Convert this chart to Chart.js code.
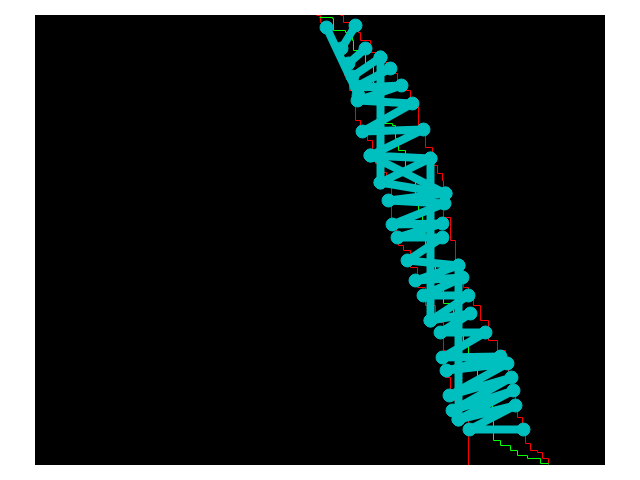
<!DOCTYPE html>
<html>
<head>
<meta charset="utf-8">
<script src="https://cdn.jsdelivr.net/npm/chart.js@4.4.1/dist/chart.umd.min.js"></script>
<style>
  body { margin: 0; background: #ffffff; }
  #wrap { width: 640px; height: 480px; }
</style>
</head>
<body>
<div id="wrap"><canvas id="chart"></canvas></div>
<script>
// main cyan track (x across, y up)
const trackX = [32.3, 36.6, 32.2, 37.7, 32.7, 38.8, 33.5, 39.5,
                34.5, 41.0, 35.3, 40.9, 35.7, 40.7, 36.2, 40.7, 37.2, 42.3, 38.0, 42.7, 38.8, 43.3, 39.5,
                43.5, 40.5, 45.0, 40.7, 46.5, 41.1, 47.2, 41.4, 47.6, 41.7, 47.8, 42.3, 48.0, 43.4, 48.8];
const trackY = [37.8, 38.0, 36.5, 36.2, 33.4, 33.6, 31.0, 30.7,
                28.3, 27.2, 26.5, 26.2, 24.1, 24.2, 22.8, 22.8, 20.5, 20.0, 18.5, 18.8, 17.0, 17.0, 14.5,
                15.2, 13.3, 13.3, 10.8, 10.9, 9.5, 10.2, 7.0, 8.8, 5.5, 7.5, 4.6, 6.0, 3.6, 3.6];

// separate cyan strokes: the slant at the top, the fan off it, a cross stroke and the three drops
const strokeX = [29.1, 32.3, null,
                 32.0, 30.6, null, 33.0, 31.3, null, 34.5, 31.7, null, 35.5, 32.1, null,
                 33.5, 41.0, null,
                 34.5, 34.5, null, 39.5, 39.5, null, 42.3, 42.3];
const strokeY = [43.8, 37.0, null,
                 44.0, 41.7, null, 41.7, 40.2, null, 40.8, 38.9, null, 39.7, 37.9, null,
                 31.0, 27.2, null,
                 40.8, 28.3, null, 30.7, 14.5, null, 20.0, 4.6];

// red stepped bounds
const lowX = [28.1, 28.5, 29.0, 29.5, 30.0, 30.5, 30.9, 31.4, 31.9, 32.0, 32.5, 33.2, 33.7, 34.0, 34.5, 35.1,
              35.6, 35.6, 36.1, 36.3, 36.8, 37.5, 38.2, 39.0, 40.0, 40.8, 40.8, 41.0, 41.5, 42.3, 43.3, 43.3];
const lowY = [45.0, 44.3, 43.5, 42.5, 41.5, 40.3, 39.0, 37.5, 36.0, 34.5, 33.5, 32.5, 31.5, 30.2, 29.3, 28.0,
              26.0, 24.5, 23.0, 22.0, 21.5, 19.8, 17.8, 16.0, 14.3, 12.5, 11.5, 8.8, 6.5, 4.5, 2.8, 0];
const highX = [30.5, 30.8, 31.5, 32.3, 32.5, 33.5, 34.8, 35.7, 36.2, 36.8, 37.5, 38.3, 38.3, 39.0, 39.7, 40.2,
               40.7, 40.8, 41.5, 42.0, 42.8, 43.3, 43.8, 44.5, 45.3, 46.2, 47.0, 47.3, 47.7, 48.0, 48.2, 48.7,
               49.0, 49.5, 50.2, 50.7, 51.3];
const highY = [45.0, 44.3, 43.7, 43.3, 42.5, 41.3, 40.3, 39.2, 38.5, 37.5, 36.5, 35.3, 33.7, 31.8, 30.0, 29.2,
               28.5, 24.8, 22.5, 20.5, 17.8, 17.2, 16.0, 14.5, 12.5, 11.5, 10.0, 8.8, 7.0, 5.5, 4.8, 3.5,
               2.2, 1.5, 1.3, 0.7, 0.2];

// green middle line
const midX = [28.4, 29.7, 29.8, 31.0, 31.7, 31.8, 33.0, 33.8, 34.3, 34.8, 35.7, 36.0, 36.3, 37.0, 38.0, 38.3,
              38.7, 39.0, 39.5, 40.0, 40.8, 41.8, 42.3, 42.8, 43.3, 44.2, 45.2, 45.7, 45.8, 46.5, 47.5, 48.2,
              49.2, 50.5, 51.3];
const midY = [44.8, 44.7, 43.5, 43.3, 42.5, 41.5, 40.2, 38.0, 36.0, 34.2, 34.0, 32.7, 31.5, 29.0, 26.3, 25.3,
              23.2, 22.0, 20.3, 18.5, 16.2, 14.8, 13.5, 12.2, 10.3, 8.2, 6.5, 5.3, 2.5, 2.0, 1.5, 1.0,
              0.7, 0.2, 0.1];

// axis limits (offset by half a step so 1px lines land on whole pixels)
const xRange = [-0.05, 56.95];
const yRange = [0.05, 45.05];

const CYAN = 'rgb(0,191,191)';

function pairs(xs, ys) {
    return xs.map((x, i) => (x === null ? { x: null, y: null } : { x: x, y: ys[i] }));
}

function cyanSet(xs, ys) {
    return {
        data: pairs(xs, ys),
        borderColor: CYAN,
        backgroundColor: CYAN,
        borderWidth: 8,
        borderJoinStyle: 'round',
        borderCapStyle: 'round',
        pointRadius: 6.5,
        pointBorderWidth: 1,
        pointBackgroundColor: CYAN,
        pointBorderColor: CYAN,
        spanGaps: false
    };
}

function thinSet(xs, ys, color) {
    return {
        data: pairs(xs, ys),
        borderColor: color,
        borderWidth: 1,
        pointRadius: 0,
        stepped: true
    };
}

const plotBackground = {
    id: 'plotBackground',
    beforeDraw(chart) {
        const a = chart.chartArea;
        const ctx = chart.ctx;
        ctx.save();
        ctx.fillStyle = '#000000';
        ctx.fillRect(a.left, a.top, a.right - a.left, a.bottom - a.top);
        ctx.restore();
    }
};

new Chart(document.getElementById('chart'), {
    type: 'line',
    data: {
        datasets: [
            cyanSet(trackX, trackY),
            cyanSet(strokeX, strokeY),
            thinSet(midX, midY, '#00ff00'),
            thinSet(lowX, lowY, '#ff0000'),
            thinSet(highX, highY, '#ff0000')
        ]
    },
    options: {
        responsive: true,
        maintainAspectRatio: false,
        animation: false,
        layout: { padding: { left: 35, right: 35, top: 15, bottom: 15 } },
        plugins: { legend: { display: false }, tooltip: { enabled: false } },
        scales: {
            x: { type: 'linear', min: xRange[0], max: xRange[1], display: false },
            y: { type: 'linear', min: yRange[0], max: yRange[1], display: false }
        }
    },
    plugins: [plotBackground]
});
</script>
</body>
</html>
